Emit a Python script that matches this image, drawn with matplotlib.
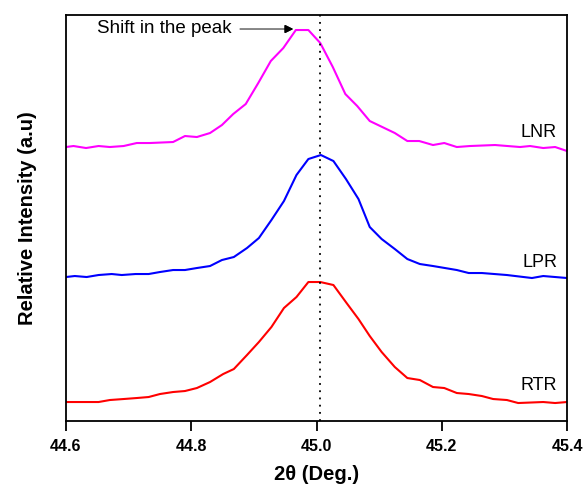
import numpy as np
import matplotlib.pyplot as plt

plt.rcParams['font.family'] = ['Liberation Sans', 'DejaVu Sans']

# %% DATA

two_theta_lnr = [44.600, 44.612, 44.632, 44.652, 44.670, 44.692, 44.713, 44.734, 44.771,
                 44.790, 44.809, 44.830, 44.849, 44.867, 44.887, 44.907, 44.927, 44.947,
                 44.967, 44.987, 45.006, 45.026, 45.046, 45.065, 45.085, 45.105, 45.125,
                 45.145, 45.164, 45.186, 45.204, 45.224, 45.245, 45.285, 45.325, 45.341,
                 45.362, 45.381, 45.400]
lnr = [274, 275, 273, 275, 274, 275, 278, 278, 279, 285, 284, 288, 296, 307, 317, 338,
       360, 373, 391, 391, 378, 354, 327, 315, 300, 294, 288, 280, 280, 276, 278, 274,
       275, 276, 274, 275, 273, 274, 270]

two_theta_lpr = [44.600, 44.614, 44.633, 44.652, 44.673, 44.689, 44.711, 44.732, 44.750,
                 44.771, 44.790, 44.809, 44.830, 44.849, 44.868, 44.889, 44.908, 44.928,
                 44.948, 44.968, 44.987, 45.007, 45.027, 45.047, 45.067, 45.085, 45.104,
                 45.125, 45.145, 45.165, 45.186, 45.205, 45.224, 45.243, 45.264, 45.304,
                 45.344, 45.362, 45.400]
lpr = [144, 145, 144, 146, 147, 146, 147, 147, 149, 151, 151, 153, 155, 161, 164, 173,
       183, 201, 220, 246, 262, 266, 260, 242, 222, 194, 182, 172, 162, 157, 155, 153,
       151, 148, 148, 146, 143, 145, 143]

two_theta_rtr = [44.600, 44.622, 44.652, 44.670, 44.692, 44.713, 44.732, 44.750, 44.771,
                 44.790, 44.809, 44.830, 44.851, 44.868, 44.889, 44.908, 44.928, 44.948,
                 44.968, 44.987, 45.006, 45.027, 45.048, 45.067, 45.085, 45.104, 45.125,
                 45.145, 45.165, 45.186, 45.204, 45.224, 45.243, 45.264, 45.282, 45.304,
                 45.322, 45.362, 45.381, 45.400]
rtr = [19, 19, 19, 21, 22, 23, 24, 27, 29, 30, 33, 39, 47, 52, 66, 79, 94, 113, 124,
       139, 139, 136, 118, 102, 85, 69, 54, 43, 41, 34, 33, 28, 27, 25, 22, 21, 18, 19,
       18, 19]

peak_pos = 45.005

# %% PLOT

fig = plt.figure(figsize=(5.83, 4.86), dpi=100)
ax = fig.add_axes([0.1132, 0.1337, 0.8594, 0.8354])

ax.plot(two_theta_lnr, lnr, color='#FF00FF', lw=1.5)
ax.plot(two_theta_lpr, lpr, color='#0000FF', lw=1.5)
ax.plot(two_theta_rtr, rtr, color='#FF0000', lw=1.5)

ax.axvline(peak_pos, color='black', ls=(0, (1, 3)), lw=1.3)

# annotation for the peak shift
ax.text(44.649, 393, 'Shift in the peak', fontsize=13.5, va='center', ha='left')
ax.annotate('', xy=(44.963, 392), xytext=(44.878, 392),
            arrowprops=dict(arrowstyle='-|>', color='#555555', lw=1,
                            mutation_scale=12, shrinkA=0, shrinkB=0))
ax.annotate('', xy=(44.963, 392), xytext=(44.95, 392),
            arrowprops=dict(arrowstyle='-|>', color='black', lw=1,
                            mutation_scale=12, shrinkA=0, shrinkB=0))

ax.text(45.384, 289, 'LNR', fontsize=13, ha='right', va='center')
ax.text(45.384, 159, 'LPR', fontsize=13, ha='right', va='center')
ax.text(45.384, 36, 'RTR', fontsize=13, ha='right', va='center')

ax.set_xlim(44.6, 45.4)
ax.set_ylim(0, 406)
ax.set_xticks([44.6, 44.8, 45.0, 45.2, 45.4])
ax.set_xticklabels(['44.6', '44.8', '45.0', '45.2', '45.4'], fontweight='bold', fontsize=11.5)
ax.set_yticks([])
ax.tick_params(axis='x', direction='out', length=7, width=1.3, pad=6)
for s in ax.spines.values():
    s.set_linewidth(1.3)

ax.set_xlabel('2θ (Deg.)', fontweight='bold', fontsize=14.5, labelpad=8)
ax.set_ylabel('Relative Intensity (a.u)', fontweight='bold', fontsize=14.5, labelpad=21)

fig.savefig('out.png', dpi=100)
